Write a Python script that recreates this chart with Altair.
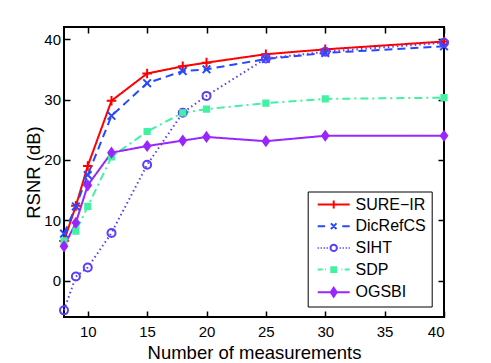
import altair as alt
import pandas as pd

# ---- data ----
n_meas = [8, 9, 10, 12, 15, 18, 20, 25, 30, 40]
methods = ["SURE−IR", "DicRefCS", "SIHT", "SDP", "OGSBI"]
sure_ir = [6.6, 12.4, 19.0, 29.8, 34.3, 35.5, 36.1, 37.5, 38.3, 39.6]
dicrefcs = [7.8, 12.3, 17.5, 27.3, 32.7, 34.7, 35.0, 36.7, 37.7, 38.8]
siht = [-4.9, 0.7, 2.2, 7.9, 19.2, 27.8, 30.6, 36.8, 37.9, 39.4]
sdp = [6.6, 8.2, 12.3, 20.5, 24.7, 27.8, 28.4, 29.4, 30.1, 30.3]
ogsbi = [5.7, 9.6, 15.8, 21.2, 22.3, 23.2, 23.8, 23.1, 24.0, 24.0]
x_ticks = [10, 15, 20, 25, 30, 35, 40]
y_ticks = [0, 10, 20, 30, 40]

# ---- styles ----
colors = ["#ff0000", "#2649ff", "#5b3dfb", "#40f2a2", "#9926ff"]
dashes = [[1, 0], [8, 5], [1.5, 3], [8, 4, 2, 4], [1, 0]]
marker_paths = [
    "M-2.4,0H2.4M0,-2.4V2.4",
    "M-1.9,-1.9L1.9,1.9M-1.9,1.9L1.9,-1.9",
    "M2,0A2,2,0,1,1,-2,0A2,2,0,1,1,2,0Z",
    "M-1.3,-1.3H1.3V1.3H-1.3Z",
    "M0,-2.2L1.6,0L0,2.2L-1.6,0Z",
]
marker_fills = ["transparent", "transparent", "transparent", "#40f2a2", "#9926ff"]
legend_paths = [
    "M-8,0H8M0,-2V2",
    "M-8,0H-4.3M4.3,0H8M-1.4,-1.4L1.4,1.4M-1.4,1.4L1.4,-1.4",
    "M-8,0H-7.5M-6.5,0H-6M-5,0H-4.5M-3.5,0H-3"
    "M1.6,0A1.6,1.6,0,1,1,-1.6,0A1.6,1.6,0,1,1,1.6,0Z"
    "M3,0H3.5M4.5,0H5M6,0H6.5M7.5,0H8",
    "M-8,0H-5.5M-4.3,0H-3.9M-1.2,-1.2H1.2V1.2H-1.2ZM3.9,0H4.3M5.5,0H8",
    "M-8,0H8M0,-2.2L1.5,0L0,2.2L-1.5,0Z",
]

FONT = "Liberation Sans"

rows = []
for m, vals in zip(methods, [sure_ir, dicrefcs, siht, sdp, ogsbi]):
    for n, v in zip(n_meas, vals):
        rows.append({"method": m, "n": n, "rsnr": v})
df = pd.DataFrame(rows)

x_scale = alt.Scale(domain=[8, 40], nice=False, zero=False)
y_scale = alt.Scale(domain=[-6, 42], nice=False, zero=False)

common_axis = dict(offset=-6, tickSize=6, domain=False, grid=False,
                   tickColor="black", tickWidth=1.5)

x_axis = alt.Axis(values=x_ticks, title="Number of measurements",
                  labelFontSize=15, labelPadding=7, labelFont=FONT, labelColor="black",
                  titleFont=FONT, titleFontSize=18.5, titleFontWeight="normal",
                  titleColor="black", titleBaseline="alphabetic", titleAlign="center",
                  titleX=190, titleY=47.3, **common_axis)
y_axis = alt.Axis(values=y_ticks, title="RSNR (dB)",
                  labelFontSize=15, labelPadding=3.5, labelFont=FONT, labelColor="black",
                  titleFont=FONT, titleFontSize=18.5, titleFontWeight="normal",
                  titleColor="black", titleBaseline="alphabetic", titleAlign="center",
                  titleAngle=270, titleX=-31, titleY=145, **common_axis)
top_axis = alt.Axis(orient="top", values=x_ticks, labels=False, title=None, **common_axis)
right_axis = alt.Axis(orient="right", values=y_ticks, labels=False, title=None, **common_axis)

leg = alt.Legend(title=None, orient="none", legendX=243.7, legendY=164.5, padding=5,
                 fillColor="white", strokeColor="black", labelFont=FONT, labelFontSize=16,
                 labelColor="black", symbolSize=16, symbolStrokeWidth=2, symbolOffset=13,
                 labelOffset=13.8, rowPadding=5.7, symbolOpacity=1, symbolFillColor="white",
                 labelExpr="datum.label + '\u00a0'", labelLimit=300)

lines = alt.Chart(df).mark_line(strokeWidth=2).encode(
    x=alt.X("n:Q", scale=x_scale, axis=x_axis),
    y=alt.Y("rsnr:Q", scale=y_scale, axis=y_axis),
    color=alt.Color("method:N", scale=alt.Scale(domain=methods, range=colors), legend=None),
    strokeDash=alt.StrokeDash("method:N", scale=alt.Scale(domain=methods, range=dashes), legend=None),
    order="n:Q",
)

points = alt.Chart(df).mark_point(size=16, strokeWidth=2, opacity=1, filled=False).encode(
    x=alt.X("n:Q", scale=x_scale, axis=None),
    y=alt.Y("rsnr:Q", scale=y_scale, axis=None),
    shape=alt.Shape("method:N", scale=alt.Scale(domain=methods, range=marker_paths), legend=None),
    stroke=alt.Stroke("method:N", scale=alt.Scale(domain=methods, range=colors), legend=None),
    fill=alt.Fill("method:N", scale=alt.Scale(domain=methods, range=marker_fills), legend=None),
)

legend_layer = alt.Chart(df).transform_filter("false").mark_point(
    size=16, strokeWidth=2, opacity=1, filled=False).encode(
    x=alt.X("n:Q", scale=x_scale, axis=top_axis),
    y=alt.Y("rsnr:Q", scale=y_scale, axis=right_axis),
    shape=alt.Shape("method:N", scale=alt.Scale(domain=methods, range=legend_paths), legend=leg),
    stroke=alt.Stroke("method:N", scale=alt.Scale(domain=methods, range=colors), legend=leg),
    fill=alt.Fill("method:N", scale=alt.Scale(domain=methods, range=marker_fills), legend=leg),
)

chart = alt.layer(lines, points, legend_layer).resolve_axis(
    x="independent", y="independent"
).resolve_scale(
    shape="independent", stroke="independent", fill="independent"
).properties(
    width=380, height=290,
    autosize=alt.AutoSizeParams(type="none"),
    padding={"left": 56, "top": 19, "right": 6, "bottom": 45},
).configure(font=FONT).configure_view(stroke="black", strokeWidth=2)

chart.save("out.html", embed_options={"renderer": "svg", "actions": False})
